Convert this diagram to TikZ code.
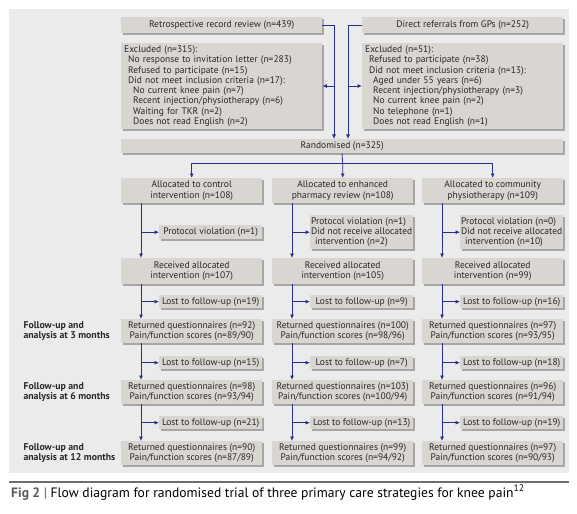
\documentclass[tikz,border=0pt]{standalone}
\usepackage{fontspec}
\setmainfont{PT Sans}
\usetikzlibrary{arrows.meta,shadows}

\definecolor{panel}{RGB}{235,235,235}
\definecolor{boxfill}{RGB}{217,213,209}
\definecolor{boxshadow}{RGB}{168,166,164}
\definecolor{flowline}{RGB}{43,46,140}
\definecolor{boxtext}{RGB}{40,40,40}
\definecolor{figgray}{RGB}{90,90,90}
\definecolor{rulegray}{RGB}{110,110,110}

\newcommand{\ind}[1]{\hspace*{#1pt}}

\begin{document}
\begin{tikzpicture}[x=1pt, y=-1pt,
    box/.style={fill=boxfill, text=boxtext, anchor=north west, inner sep=0pt,
        align=center, font=\fontsize{9.5}{10.3}\selectfont,
        drop shadow={shadow xshift=1.6pt, shadow yshift=-1.6pt, fill=boxshadow, opacity=1}},
    colbox/.style={box, minimum width=141, minimum height=#1},
    sidebox/.style={box, minimum width=103, minimum height=#1},
    listbox/.style={box, minimum width=201, minimum height=#1, align=left,
        text width=195, inner xsep=3pt},
    arr/.style={draw=flowline, line width=0.8pt, -{Latex[length=4.5pt,width=4pt]}},
    stage/.style={anchor=west, align=left, text=boxtext,
        font=\fontsize{9.8}{10.6}\selectfont\bfseries}]

    \useasboundingbox (0,0) rectangle (577,513);
    \fill[panel] (9,9) rectangle (569,473);

    % recruitment
    \node[box, minimum width=201, minimum height=16] (retro) at (121,17)
        {Retrospective record review (n=439)};
    \node[box, minimum width=201, minimum height=16] (gp) at (362,17)
        {Direct referrals from GPs (n=252)};

    \node[listbox=86] (exclA) at (121,43) {Excluded (n=315):\\
        \ind{4}No response to invitation letter (n=283)\\
        \ind{4}Refused to participate (n=15)\\
        \ind{4}Did not meet inclusion criteria (n=17):\\
        \ind{9}No current knee pain (n=7)\\
        \ind{9}Recent injection/physiotherapy (n=6)\\
        \ind{9}Waiting for TKR (n=2)\\
        \ind{9}Does not read English (n=2)};
    \node[listbox=86] (exclB) at (362,43) {Excluded (n=51):\\
        \ind{4}Refused to participate (n=38)\\
        \ind{4}Did not meet inclusion criteria (n=13):\\
        \ind{8}Aged under 55 years (n=6)\\
        \ind{8}Recent injection/physiotherapy (n=3)\\
        \ind{8}No current knee pain (n=2)\\
        \ind{8}No telephone (n=1)\\
        \ind{8}Does not read English (n=1)};

    \node[box, minimum width=442, minimum height=14] (rand) at (121,139)
        {Randomised (n=325)};

    \coordinate (jl) at (334,86);
    \coordinate (jr) at (348,86);
    \draw[arr] (retro.east) -| (jl |- rand.north);
    \draw[arr] (gp.west) -| (jr |- rand.north);
    \draw[arr] (jl) -- (jl -| exclA.east);
    \draw[arr] (jr) -- (jr -| exclB.west);

    % allocation
    \node[colbox=25] (alloc1) at (121,178) {Allocated to control\\intervention (n=108)};
    \node[colbox=25] (alloc2) at (272,178) {Allocated to enhanced\\pharmacy review (n=108)};
    \node[colbox=25] (alloc3) at (422,178) {Allocated to community\\physiotherapy (n=109)};

    \coordinate (split) at (342,163);
    \draw[arr] (rand.south -| split) -- (split -| alloc2.north) -- (alloc2.north);
    \draw[arr] (split) -| (alloc1.north);
    \draw[arr] (split) -| (alloc3.north);

    \node[sidebox=14] (viol1) at (159,225) {Protocol violation (n=1)};
    \node[sidebox=34, align=left] (viol2) at (310,215) {Protocol violation (n=1)\\
        Did not receive allocated\\\ind{4}intervention (n=2)};
    \node[sidebox=34, align=left] (viol3) at (460,215) {Protocol violation (n=0)\\
        Did not receive allocated\\\ind{4}intervention (n=10)};

    \node[colbox=26] (recv1) at (121,258) {Received allocated\\intervention (n=107)};
    \node[colbox=26] (recv2) at (272,258) {Received allocated\\intervention (n=105)};
    \node[colbox=26] (recv3) at (422,258) {Received allocated\\intervention (n=99)};

    % follow-up
    \node[sidebox=13] (lostA1) at (159,295) {Lost to follow-up (n=19)};
    \node[sidebox=13] (lostA2) at (310,295) {Lost to follow-up (n=9)};
    \node[sidebox=13] (lostA3) at (460,295) {Lost to follow-up (n=16)};

    \node[colbox=24] (ret31) at (121,319) {Returned questionnaires (n=92)\\Pain/function scores (n=89/90)};
    \node[colbox=24] (ret32) at (272,319) {Returned questionnaires (n=100)\\Pain/function scores (n=98/96)};
    \node[colbox=24] (ret33) at (422,319) {Returned questionnaires (n=97)\\Pain/function scores (n=93/95)};

    \node[sidebox=13] (lostB1) at (159,356) {Lost to follow-up (n=15)};
    \node[sidebox=13] (lostB2) at (310,356) {Lost to follow-up (n=7)};
    \node[sidebox=13] (lostB3) at (460,356) {Lost to follow-up (n=18)};

    \node[colbox=24] (ret61) at (121,380) {Returned questionnaires (n=98)\\Pain/function scores (n=93/94)};
    \node[colbox=24] (ret62) at (272,380) {Returned questionnaires (n=103)\\Pain/function scores (n=100/94)};
    \node[colbox=24] (ret63) at (422,380) {Returned questionnaires (n=96)\\Pain/function scores (n=91/94)};

    \node[sidebox=13] (lostC1) at (159,416) {Lost to follow-up (n=21)};
    \node[sidebox=13] (lostC2) at (310,416) {Lost to follow-up (n=13)};
    \node[sidebox=13] (lostC3) at (460,416) {Lost to follow-up (n=19)};

    \node[colbox=24] (ret121) at (121,441) {Returned questionnaires (n=90)\\Pain/function scores (n=87/89)};
    \node[colbox=24] (ret122) at (272,441) {Returned questionnaires (n=99)\\Pain/function scores (n=94/92)};
    \node[colbox=24] (ret123) at (422,441) {Returned questionnaires (n=97)\\Pain/function scores (n=90/93)};

    \foreach \c in {1,2,3} {
        \coordinate (t\c) at ([xshift=20pt]alloc\c.south west);
        \foreach \a/\b/\s in {alloc/recv/viol, recv/ret3/lostA, ret3/ret6/lostB, ret6/ret12/lostC} {
            \draw[arr] (t\c |- \a\c.south) -- (t\c |- \b\c.north);
            \draw[arr] (t\c |- \s\c.west) -- (\s\c.west);
        }
    }

    \node[stage] (stage3) at (20,331) {Follow-up and\\analysis at 3 months};
    \node[stage] (stage6) at (20,392) {Follow-up and\\analysis at 6 months};
    \node[stage] (stage12) at (20,453) {Follow-up and\\analysis at 12 months};

    % caption
    \draw[rulegray, line width=1.5pt] (9,482) -- (569,482);
    \node[anchor=base west, inner sep=0pt, font=\fontsize{13.6}{15}\selectfont] (caption) at (11,497)
        {{\bfseries\color{figgray}Fig 2} {\color{figgray}|} Flow diagram for randomised trial of three primary care strategies for knee pain\textsuperscript{12}};
\end{tikzpicture}
\end{document}
